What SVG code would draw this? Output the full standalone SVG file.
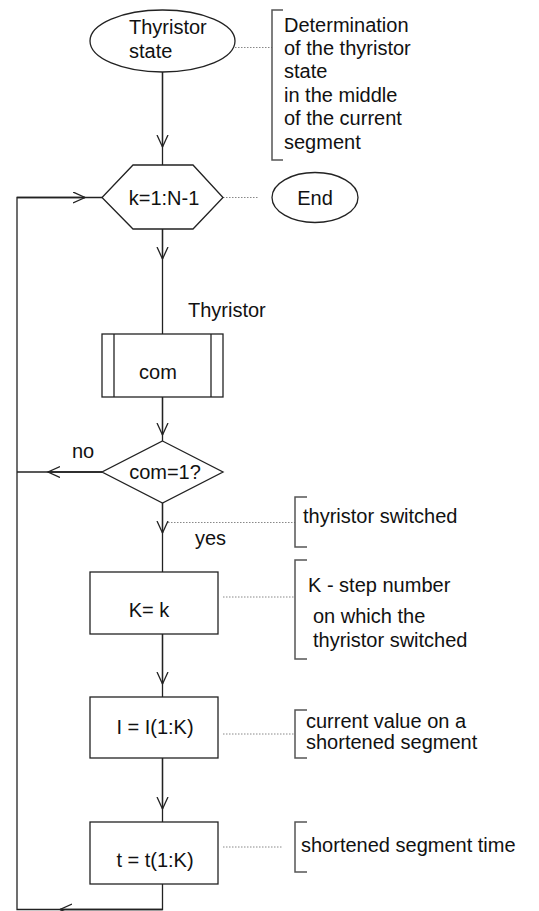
<svg xmlns="http://www.w3.org/2000/svg" width="539" height="911" viewBox="0 0 539 911">
<style>
.s{fill:none;stroke:#222;stroke-width:1.3}
.n{fill:#fff;stroke:#222;stroke-width:1.3}
.d{fill:none;stroke:#888;stroke-width:1;stroke-dasharray:1.5 1.5}
.b{fill:none;stroke:#555;stroke-width:1.5}
text{font-family:"Liberation Sans",Arial,sans-serif;font-size:20px;fill:#111}
.m{text-anchor:middle}
</style>
<defs>
<marker id="a" markerWidth="14" markerHeight="14" refX="12" refY="6" orient="auto" markerUnits="userSpaceOnUse">
<path d="M0,0.5 L12,6 L0,11.5" fill="none" stroke="#222" stroke-width="1.3"/>
</marker>
</defs>
<g id="connectors">
<path class="s" d="M162.5,72 V165"/>
<path class="s" d="M162.5,72 V147" marker-end="url(#a)"/>
<path class="s" d="M162.5,229 V334"/>
<path class="s" d="M162.5,229 V259" marker-end="url(#a)"/>
<path class="s" d="M162.5,397 V441"/>
<path class="s" d="M162.5,397 V435" marker-end="url(#a)"/>
<path class="s" d="M162.5,503 V572"/>
<path class="s" d="M162.5,503 V533" marker-end="url(#a)"/>
<path class="s" d="M162.5,634 V697"/>
<path class="s" d="M162.5,634 V684" marker-end="url(#a)"/>
<path class="s" d="M162.5,758 V822"/>
<path class="s" d="M162.5,758 V809" marker-end="url(#a)"/>
<path class="s" d="M162.5,884 V909.5 H17 V197.5 H102"/>
<path class="s" d="M162.5,909.5 H60" marker-end="url(#a)"/>
<path class="s" d="M17,197.5 H85" marker-end="url(#a)"/>
<path class="s" d="M102,472 H17"/>
<path class="s" d="M102,472 H48" marker-end="url(#a)"/>
<line class="d" x1="235" y1="47.5" x2="272" y2="47.5"/>
<line class="d" x1="223" y1="197.5" x2="259" y2="197.5"/>
<line class="d" x1="168" y1="522.5" x2="295" y2="522.5"/>
<line class="d" x1="223" y1="597" x2="295" y2="597"/>
<line class="d" x1="223" y1="734" x2="295" y2="734"/>
<line class="d" x1="223" y1="847" x2="283" y2="847"/>
<text x="72" y="458">no</text>
<text x="195" y="545">yes</text>
<text x="188" y="317">Thyristor</text>
</g>
<g id="start">
<ellipse class="n" cx="162.5" cy="41" rx="72.5" ry="31"/>
<text x="129" y="34">Thyristor</text>
<text x="129" y="58">state</text>
</g>
<g id="note1">
<path class="b" d="M283,10 H272 V160 H283"/>
<text x="284" y="32">Determination</text>
<text x="284" y="55">of the thyristor</text>
<text x="284" y="78">state</text>
<text x="284" y="102">in the middle</text>
<text x="284" y="125">of the current</text>
<text x="284" y="149">segment</text>
</g>
<g id="loop">
<polygon class="n" points="133,165 193,165 223,197.5 193,229 133,229 102,197.5"/>
<text class="m" x="164" y="205">k=1:N-1</text>
</g>
<g id="end">
<ellipse class="n" cx="315" cy="197.5" rx="43" ry="25"/>
<text class="m" x="315" y="205">End</text>
</g>
<g id="sub">
<rect class="n" x="102" y="334" width="121" height="63"/>
<line class="s" x1="114" y1="334" x2="114" y2="397"/>
<line class="s" x1="211" y1="334" x2="211" y2="397"/>
<text class="m" x="158" y="379">com</text>
</g>
<g id="cond">
<polygon class="n" points="162.5,441 223,472 162.5,503 102,472"/>
<text class="m" x="165" y="479">com=1?</text>
</g>
<g id="note2">
<path class="b" d="M307,497 H295 V547 H307"/>
<text x="303" y="523">thyristor switched</text>
</g>
<g id="setK">
<rect class="n" x="90" y="572" width="128" height="62"/>
<text class="m" x="149" y="617">K= k</text>
</g>
<g id="note3">
<path class="b" d="M307,560 H295 V659 H307"/>
<text x="308" y="592">K - step number</text>
<text x="313" y="623">on which the</text>
<text x="313" y="647">thyristor switched</text>
</g>
<g id="setI">
<rect class="n" x="90" y="697" width="128" height="61"/>
<text class="m" x="155" y="734">I = I(1:K)</text>
</g>
<g id="note4">
<path class="b" d="M307,710 H295 V758 H307"/>
<text x="306" y="728">current value on a</text>
<text x="306" y="749">shortened segment</text>
</g>
<g id="sett">
<rect class="n" x="90" y="822" width="128" height="62"/>
<text class="m" x="155" y="867">t = t(1:K)</text>
</g>
<g id="note5">
<path class="b" d="M307,822 H295 V872 H307"/>
<text x="301" y="852">shortened segment time</text>
</g>
</svg>
